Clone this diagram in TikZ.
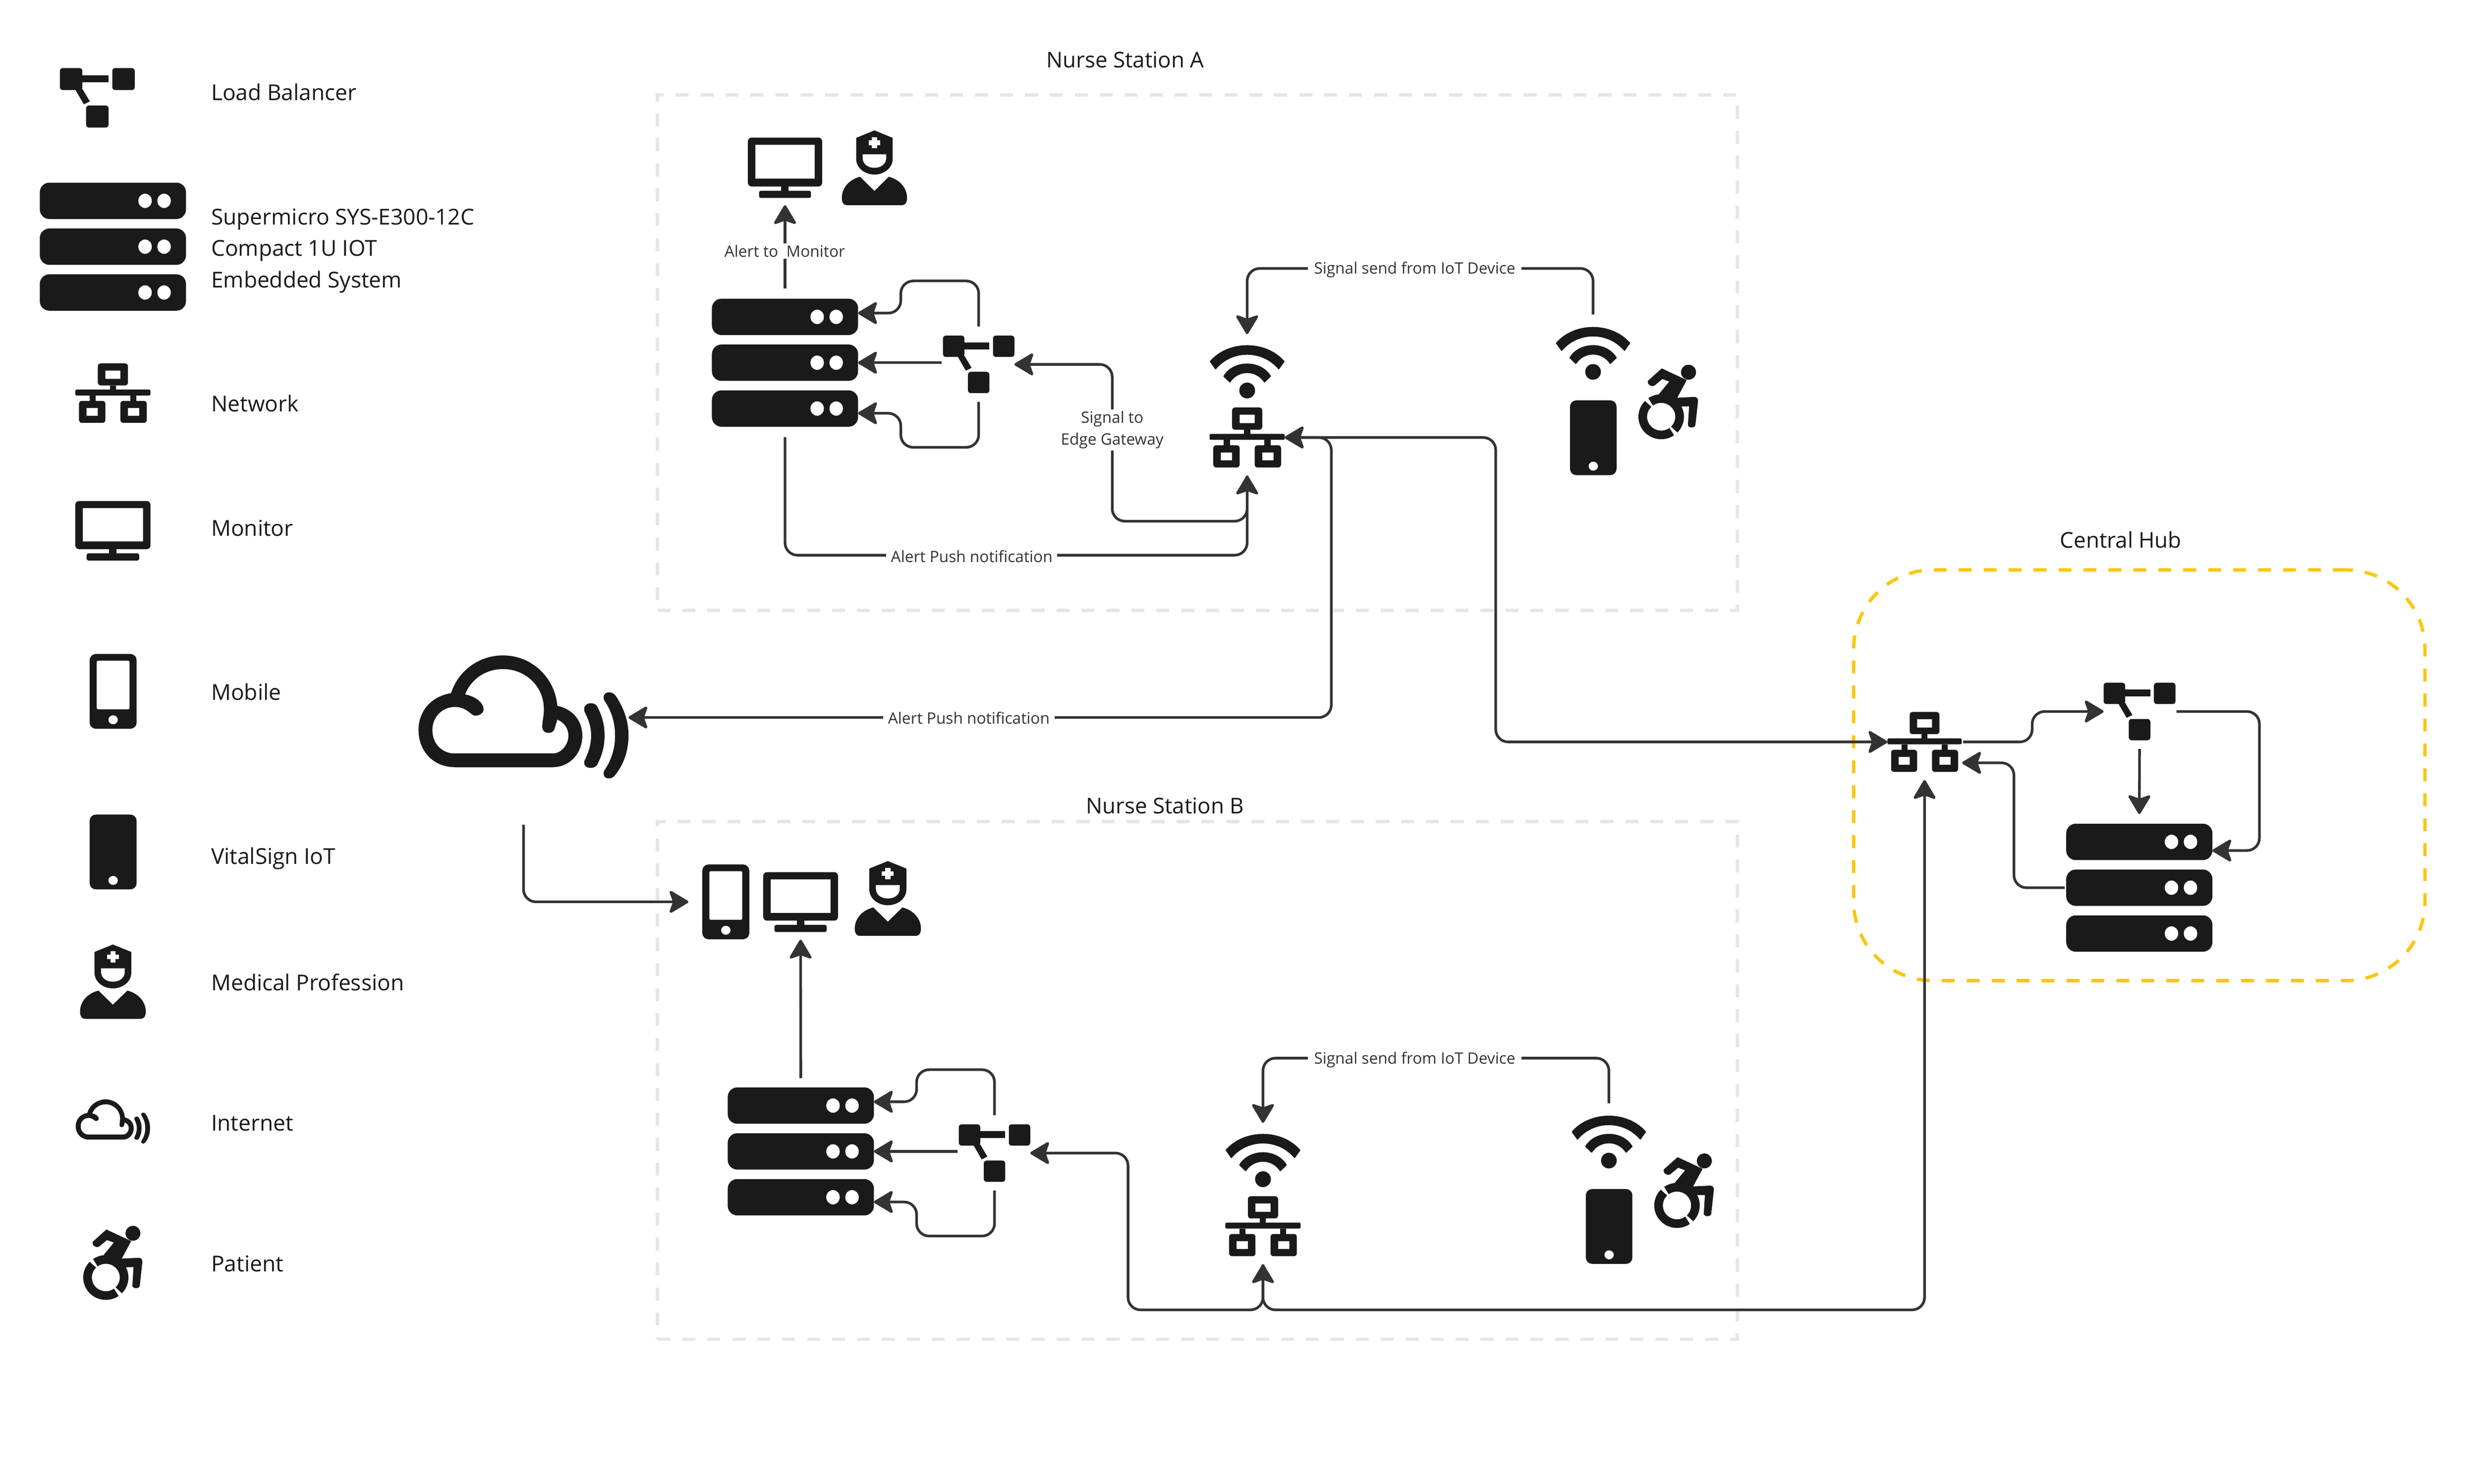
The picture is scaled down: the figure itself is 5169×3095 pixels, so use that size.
\documentclass[tikz,border=0pt]{standalone}
\usepackage{fontspec}
\setmainfont{Open Sans}
\usetikzlibrary{arrows.meta}
\definecolor{ink}{HTML}{1A1A1A}
\definecolor{wire}{HTML}{333333}
\definecolor{framegrey}{HTML}{E6E6E6}
\definecolor{hubyellow}{HTML}{FAC710}
\tikzset{
  conn/.style={draw=wire,line width=0.055cm,rounded corners=0.26cm,line cap=butt},
  tipped/.style={conn,-{Stealth[length=0.44cm,width=0.52cm,inset=0.09cm,round]}},
  bothtipped/.style={conn,{Stealth[length=0.44cm,width=0.52cm,inset=0.09cm,round]}-{Stealth[length=0.44cm,width=0.52cm,inset=0.09cm,round]}},
  lbl/.style={fill=white,text=wire,inner ysep=0.035cm,inner xsep=0.1cm,align=center,font=\fontsize{9.3}{13}\selectfont},
  legendtxt/.style={anchor=west,text=ink,inner sep=0,align=left,font=\fontsize{13}{18.7}\selectfont},
  oneline/.style={text height=9.4pt,text depth=0pt},
  title/.style={text=ink,inner sep=0,font=\fontsize{12.9}{15}\selectfont,text height=9.2pt,text depth=0pt},
  iconbox/.style={inner sep=0,outer sep=0},
  stationframe/.style={draw=framegrey,line width=0.07cm,dash pattern=on 0.27cm off 0.25cm,inner sep=0,outer sep=0},
  hubframe/.style={draw=hubyellow,line width=0.07cm,dash pattern=on 0.27cm off 0.25cm,rounded corners=1.65cm,inner sep=0,outer sep=0},
}
% ---- icons, drawn in a 0..100 box (y down) ----
\newcommand\drawlb{%
  \fill[ink,rounded corners=0.06cm] (0,0) rectangle (30,37);
  \fill[ink,rounded corners=0.06cm] (70,0) rectangle (100,37);
  \fill[ink,rounded corners=0.06cm] (35,63) rectangle (65,100);
  \fill[ink] (28,12) rectangle (65,24);
  \fill[ink] (20,35) -- (30,35) -- (40,56) -- (32,61) -- cycle;
}
\newcommand\drawsrv{%
  \foreach \yy in {0,35.8,71.6}{
    \fill[ink,rounded corners=0.2cm] (0,\yy) rectangle (100,\yy+28.4);
    \fill[white] (72,\yy+14.2) ellipse [x radius=4.6,y radius=5.6];
    \fill[white] (85,\yy+14.2) ellipse [x radius=4.6,y radius=5.6];
  }
}
\newcommand\drawnet{%
  \fill[ink,rounded corners=0.06cm,even odd rule] (30,0) rectangle (70,37) [sharp corners] (40,12) rectangle (60,26);
  \fill[ink] (46,37) rectangle (54,46);
  \fill[ink,rounded corners=0.03cm] (0,44) rectangle (100,54);
  \fill[ink] (19,54) rectangle (27,64);
  \fill[ink] (73,54) rectangle (81,64);
  \fill[ink,rounded corners=0.06cm,even odd rule] (5,63) rectangle (40,100) [sharp corners] (15,75) rectangle (30,88);
  \fill[ink,rounded corners=0.06cm,even odd rule] (60,63) rectangle (95,100) [sharp corners] (70,75) rectangle (85,88);
}
\newcommand\drawmon{%
  \fill[ink,rounded corners=0.08cm,even odd rule] (0,0) rectangle (100,81) [sharp corners] (10,12) rectangle (90,68);
  \fill[ink] (45,80) rectangle (55,89);
  \fill[ink,rounded corners=0.04cm] (15,88) rectangle (85,100);
}
\newcommand\drawphonefull{%
  \fill[ink,rounded corners=0.13cm] (0,0) rectangle (100,100);
  \fill[white] (50,88) ellipse [x radius=10,y radius=6];
}
\newcommand\drawphoneline{%
  \drawphonefull
  \fill[white,rounded corners=0.03cm] (15,9) rectangle (85,74);
}
\newcommand\drawnurse{%
  \fill[ink] (22,10) -- (50,0) -- (78,10) -- (78,38) .. controls (78,50) and (65,59) .. (50,59) .. controls (35,59) and (22,50) .. (22,38) -- cycle;
  \fill[white] (32,32) -- (68,32) -- (68,37) .. controls (68,45) and (60,50) .. (50,50) .. controls (40,50) and (32,45) .. (32,37) -- cycle;
  \fill[white] (46,9) rectangle (54,24);
  \fill[white] (41,13.5) rectangle (59,19.5);
  \fill[ink] (28,62) -- (50,81) -- (72,62) .. controls (90,66) and (100,78) .. (100,90) .. controls (100,97) and (97,100) .. (92,100) -- (8,100) .. controls (3,100) and (0,97) .. (0,90) .. controls (0,78) and (10,66) .. (28,62) -- cycle;
}
\newcommand\drawwifi{%
  \fill[ink,draw=ink,line width=0.02cm,line join=round] (1,30) .. controls (25,-10) and (75,-10) .. (99,30) -- (92,44) .. controls (70,7) and (30,7) .. (8,44) -- cycle;
  \fill[ink,draw=ink,line width=0.02cm,line join=round] (19,58) .. controls (32,27) and (68,27) .. (81,58) -- (73,69) .. controls (62,45) and (38,45) .. (27,69) -- cycle;
  \fill[ink] (50,85) ellipse [x radius=10.5,y radius=15];
}
\newcommand\drawpatient{%
  \fill[ink] (84,10.5) ellipse [x radius=12.6,y radius=10];
  \fill[ink] (39,5.4) -- (81,21) -- (65,44.6) -- (94,43.5) .. controls (98,43.5) and (100,46) .. (100,49) -- (95.6,81) .. controls (95,85.5) and (83.5,85.5) .. (83,81) -- (85,56) -- (58,56.5) -- (34,40) -- (51.6,23) -- (40,19.6) -- (28,27.5) .. controls (24,31) and (14,28) .. (15.7,22) -- cycle;
  \draw[ink,line width=0.18cm] (38,70) ++(-135:31 and 24.3) arc [start angle=-135,end angle=-305,x radius=31,y radius=24.3];
  \draw[ink,line width=0.18cm] (38,70) ++(-125:31 and 24.3) arc [start angle=-125,end angle=45,x radius=31,y radius=24.3];
}
\newcommand\drawcloud{%
  \fill[ink,even odd rule]
    (15.5,30.4) .. controls (19,12) and (29,0) .. (40.2,0) .. controls (54,0) and (65,18) .. (66.1,40.6) .. controls (73,43) and (78,52) .. (78,64.6) .. controls (78,79) and (72,90) .. (63.8,90) -- (17.4,90) .. controls (7,90) and (0,77) .. (0,60) .. controls (0,45) and (6,33) .. (15.5,30.4) -- cycle
    (22.2,31.4) .. controls (25,19) and (32,11) .. (40.2,11) .. controls (51,11) and (60,25) .. (59.7,44.3) .. controls (59.7,48) and (59.2,51) .. (59,55.4) .. controls (58.5,60) and (60,62.4) .. (62,62.4) .. controls (64,62.4) and (64.6,60) .. (64.8,59) -- (66.1,51.7) .. controls (69.5,54) and (71.4,59) .. (71.4,64.6) .. controls (71.4,72) and (68,79) .. (63.8,79) -- (17.4,79) .. controls (11,79) and (6.6,71) .. (6.6,60) .. controls (6.6,50) and (11,41.5) .. (17.4,41.5) .. controls (22,41.5) and (24,46) .. (26,48) .. controls (27.5,49.5) and (31,47.5) .. (31,43.4) .. controls (31,38) and (27,33) .. (22.2,31.4) -- cycle;
  \fill[ink] (85.2,41.5) .. controls (87.5,49) and (88.6,56) .. (88.6,64.6) .. controls (88.6,73) and (87.5,80) .. (85.2,87.6) .. controls (84.3,92) and (78,92) .. (79,85) .. controls (81,78) and (82.2,72) .. (82.2,64.6) .. controls (82.2,57) and (81,52) .. (79,45) .. controls (78,37) and (84.3,37) .. (85.2,41.5) -- cycle;
  \fill[ink] (93.8,32.3) .. controls (98,43) and (100,53) .. (100,64.6) .. controls (100,76) and (98,87) .. (93.8,96) .. controls (92,101) and (87,100) .. (88.4,93) .. controls (92,84) and (93.6,75) .. (93.6,64.6) .. controls (93.6,54) and (92,45) .. (88.4,36) .. controls (87,29) and (92,28) .. (93.8,32.3) -- cycle;
}
% name, drawing, x0, y0, x1, y1
\newcommand\placeicon[6]{%
  \pgfmathsetmacro\iconsx{(#5-#3)/100}%
  \pgfmathsetmacro\iconsy{(#6-#4)/100}%
  \pgfmathsetmacro\iconw{(#5-#3)*0.01}%
  \pgfmathsetmacro\iconh{(#6-#4)*0.01}%
  \node[iconbox,minimum width=\iconw cm,minimum height=\iconh cm] (#1) at ({(#3+#5)/2},{(#4+#6)/2}) {};
  \begin{scope}[shift={(#3,#4)},xscale=\iconsx,yscale=\iconsy]
    #2
  \end{scope}
}
% the part shared by both nurse stations; #2 = x of the label on the IoT connector, #3 = y of that connector
\newcommand\edgegroup[3]{%
  \placeicon{srv#1}{\drawsrv}{1485}{623}{1790}{890}
  \placeicon{lb#1}{\drawlb}{1967}{700}{2116}{820}
  \placeicon{wifi#1}{\drawwifi}{2523}{721}{2680}{831}
  \placeicon{net#1}{\drawnet}{2523}{850}{2680}{975}
  \placeicon{iot#1}{\drawwifi}{3245}{683}{3401}{792}
  \placeicon{phone#1}{\drawphonefull}{3275}{835}{3372}{991}
  \placeicon{pat#1}{\drawpatient}{3418}{760}{3542}{916}
  \draw[tipped] ([yshift=0.19cm]lb#1.north) -- (2041.5,586) -- (1879,586) -- (1879,653) -- ([yshift=-0.30cm]srv#1.north east);
  \draw[tipped,shorten <=0.03cm] (srv#1.east -| lb#1.west) -- (srv#1.east);
  \draw[tipped] ([yshift=-0.18cm]lb#1.south) -- (2041.5,933) -- (1879,933) -- (1879,862) -- ([yshift=0.28cm]srv#1.south east);
  \draw[tipped] ([yshift=0.27cm]iot#1.north) -- (3323,#3) -- (2601.5,#3) -- ([yshift=0.24cm]wifi#1.north);
  \node[lbl,inner xsep=0.13cm] (send#1) at (#2,#3+3) {Signal send from IoT Device};
}
\begin{document}
\begin{tikzpicture}[x=0.01cm,y=-0.01cm]
\useasboundingbox (0,0) rectangle (5169,3095);
\fill[white] (0,0) rectangle (5169,3095);
% frames
\node[stationframe,minimum width=22.51cm,minimum height=10.75cm] (stationA) at (2497.5,735.5) {};
\node[stationframe,minimum width=22.51cm,minimum height=10.79cm] (stationB) at (2497.5,2253.5) {};
\node[hubframe,minimum width=11.91cm,minimum height=8.56cm] (hub) at (4462.5,1617) {};
\node[title] (titleA) at (2347,125) {Nurse Station A};
\node[title] (titleB) at (2430,1681) {Nurse Station B};
\node[title] (titleH) at (4424,1127) {Central Hub};
% legend
\placeicon{legLb}{\drawlb}{125}{142}{281}{266}
\placeicon{legSrv}{\drawsrv}{83}{381}{388}{648}
\placeicon{legNet}{\drawnet}{157}{758}{314}{882}
\placeicon{legMon}{\drawmon}{157}{1045}{314}{1169}
\placeicon{legMob}{\drawphoneline}{187}{1364}{285}{1520}
\placeicon{legIot}{\drawphonefull}{187}{1699}{285}{1855}
\placeicon{legMed}{\drawnurse}{167}{1970}{304}{2125}
\placeicon{legCloud}{\drawcloud}{158}{2293}{313}{2386}
\placeicon{legPat}{\drawpatient}{174}{2556}{297}{2711}
\node[legendtxt,oneline] (tLb) at (440,193) {Load Balancer};
\node[legendtxt] (tSrv) at (440,523) {Supermicro SYS-E300-12C\\Compact 1U IOT\\Embedded System};
\node[legendtxt,oneline] (tNet) at (440,842) {Network};
\node[legendtxt,oneline] (tMon) at (440,1102) {Monitor};
\node[legendtxt,oneline] (tMob) at (440,1444) {Mobile};
\node[legendtxt,oneline] (tIot) at (440,1786) {VitalSign IoT};
\node[legendtxt,oneline] (tMed) at (440,2050) {Medical Profession};
\node[legendtxt,oneline] (tCloud) at (440,2342) {Internet};
\node[legendtxt,oneline] (tPat) at (440,2636) {Patient};
% internet
\placeicon{cloud}{\drawcloud}{873}{1367}{1311}{1626}
% station A
\edgegroup{A}{2951}{560}
\placeicon{monA}{\drawmon}{1560}{287}{1715}{413}
\placeicon{nurseA}{\drawnurse}{1756}{272}{1892}{428}
\draw[tipped] ([yshift=0.21cm]srvA.north) -- ([yshift=-0.15cm]monA.south);
\node[lbl,inner xsep=0.035cm] (alertMon) at (1637,524) {Alert to\ \ Monitor};
\draw[tipped] ([yshift=-0.22cm]srvA.south) -- (1637.5,1158) -- (2601.5,1158) -- ([yshift=-0.17cm]netA.south);
\node[lbl] (pushA) at (2027,1160) {Alert Push notification};
\draw[tipped] ([yshift=-0.17cm]netA.south) -- (2601.5,1087) -- (2320,1087) -- (2320,760) -- (lbA.east);
\node[lbl,inner xsep=0.035cm] (gate) at (2320,897) {Signal to\\Edge Gateway};
% station A to internet
\draw[bothtipped] (netA.east) -- (2777,912.5) -- (2777,1496.5) -- (cloud.east);
\node[lbl] (pushCloud) at (2021,1498) {Alert Push notification};
% hub
\placeicon{netH}{\drawnet}{3937}{1485}{4092}{1610}
\placeicon{lbH}{\drawlb}{4388}{1424}{4538}{1544}
\placeicon{srvH}{\drawsrv}{4310}{1718}{4615}{1985}
\draw[bothtipped] (netA.east) -- (3120,912.5) -- (3120,1547.5) -- (netH.west);
\draw[tipped] ([xshift=0.03cm]netH.east) -- (4239,1547.5) -- (4239,1484) -- (lbH.west);
\draw[tipped] ([xshift=0.02cm]lbH.east) -- (4713,1484) -- (4713,1774) -- ([yshift=-0.56cm]srvH.north east);
\draw[tipped] ([yshift=-0.18cm]lbH.south) -- ([yshift=0.20cm]srvH.north);
\draw[tipped] ([xshift=-0.03cm]srvH.west) -- (4201,1851.5) -- (4201,1591) -- ([yshift=-0.435cm,xshift=0.01cm]netH.east);
% station B
\begin{scope}[shift={(33,1645)}]
\edgegroup{B}{2918}{562}
\end{scope}
\placeicon{phoneTop}{\drawphoneline}{1465}{1803}{1563}{1959}
\placeicon{monB}{\drawmon}{1592}{1819}{1748}{1944}
\placeicon{nurseB}{\drawnurse}{1783}{1796}{1921}{1952}
\draw[tipped] ([yshift=-0.94cm]cloud.south) -- (1092,1881) -- ([xshift=-0.29cm]phoneTop.west);
\draw[tipped] ([yshift=0.19cm]srvB.north) -- ([yshift=-0.16cm]monB.south);
\draw[bothtipped] ([yshift=-0.17cm]netH.south) -- (4014.5,2732) -- (2634.5,2732) -- ([yshift=-0.17cm]netB.south);
\draw[tipped] ([yshift=-0.17cm]netB.south) -- (2634.5,2732) -- (2353,2732) -- (2353,2405) -- (lbB.east);
\end{tikzpicture}
\end{document}
